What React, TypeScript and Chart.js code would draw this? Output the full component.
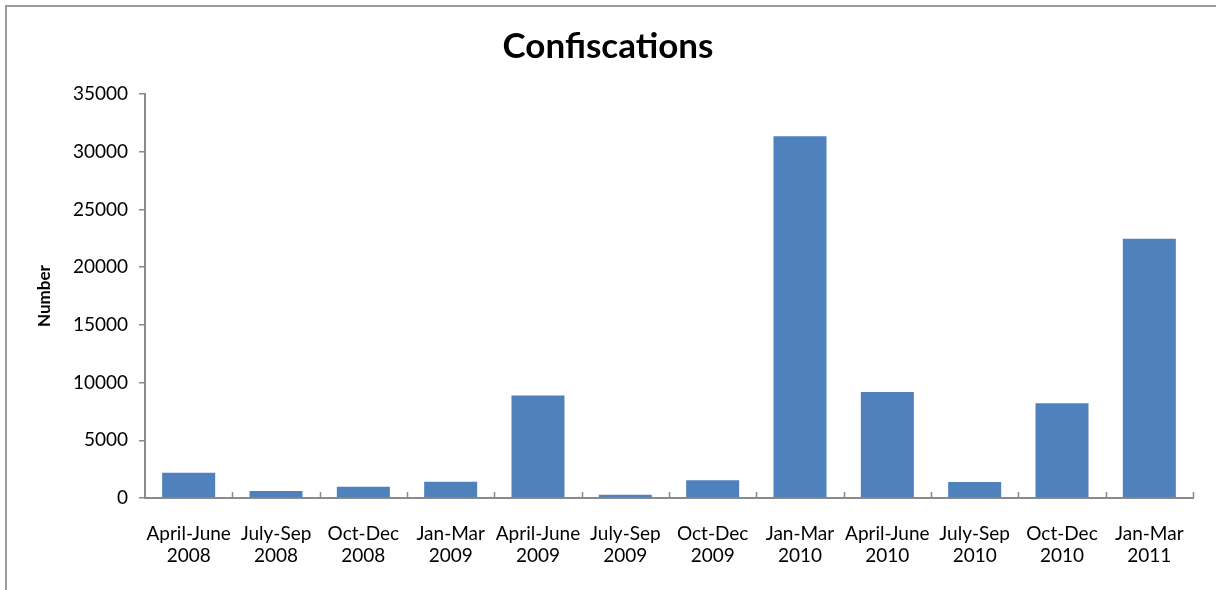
import React, { useEffect, useRef } from "react";
import { Chart, registerables } from "chart.js";

Chart.register(...registerables);

const categories: string[][] = [
  ["April-June", "2008"],
  ["July-Sep", "2008"],
  ["Oct-Dec", "2008"],
  ["Jan-Mar", "2009"],
  ["April-June", "2009"],
  ["July-Sep", "2009"],
  ["Oct-Dec", "2009"],
  ["Jan-Mar", "2010"],
  ["April-June", "2010"],
  ["July-Sep", "2010"],
  ["Oct-Dec", "2010"],
  ["Jan-Mar", "2011"],
];

const confiscations: number[] = [
  2190, 600, 980, 1410, 8890, 290, 1530, 31330, 9180, 1390, 8200, 22470,
];

const yMax = 35000;
const yStep = 5000;

const FONT = "Lato, 'DejaVu Sans', sans-serif";
const AXIS_GRAY = "#8a8a8a";

const framePlugin = {
  id: "frame",
  beforeDraw(chart: any) {
    const ctx = chart.ctx;
    ctx.save();
    ctx.fillStyle = "#ffffff";
    ctx.fillRect(0, 0, chart.width, chart.height);
    ctx.strokeStyle = "#9c9c9c";
    ctx.lineWidth = 2;
    ctx.beginPath();
    ctx.moveTo(6, chart.height);
    ctx.lineTo(6, 6);
    ctx.lineTo(chart.width, 6);
    ctx.stroke();
    ctx.restore();
  },
};

const innerTicksPlugin = {
  id: "innerTicks",
  afterDatasetsDraw(chart: any) {
    const x = chart.scales.x;
    const ctx = chart.ctx;
    const n = categories.length;
    const w = (x.right - x.left) / n;
    ctx.save();
    ctx.strokeStyle = AXIS_GRAY;
    ctx.lineWidth = 1.5;
    ctx.beginPath();
    for (let i = 1; i <= n; i++) {
      const px = Math.round(x.left + i * w) + 0.5;
      ctx.moveTo(px, x.top);
      ctx.lineTo(px, x.top - 6);
    }
    ctx.stroke();
    ctx.restore();
  },
};

export default function App() {
  const ref = useRef<HTMLCanvasElement | null>(null);

  useEffect(() => {
    document.body.style.margin = "0";
    if (!ref.current) return;
    const chart = new Chart(ref.current, {
      type: "bar",
      data: {
        labels: categories,
        datasets: [
          {
            label: "Confiscations",
            data: confiscations,
            backgroundColor: "#4F81BD",
            borderWidth: 0,
            barPercentage: 0.607,
            categoryPercentage: 1,
          },
        ],
      },
      options: {
        responsive: false,
        animation: false,
        layout: { padding: { left: 23, right: 23, top: 0, bottom: 0 } },
        plugins: {
          legend: { display: false },
          tooltip: { enabled: false },
          title: {
            display: true,
            text: "Confiscations",
            color: "#000000",
            font: { family: FONT, size: 35, weight: "bold", lineHeight: 1.2 },
            padding: { top: 26, bottom: 26 },
          },
        },
        scales: {
          x: {
            grid: { display: false, drawTicks: false },
            border: { display: true, color: AXIS_GRAY, width: 2 },
            ticks: {
              color: "#000000",
              font: { family: FONT, size: 19, lineHeight: 1.17 },
              padding: 25,
              maxRotation: 0,
              autoSkip: false,
            },
            afterFit(scale: any) {
              scale.height = 92;
            },
          },
          y: {
            min: 0,
            max: yMax,
            grid: {
              drawOnChartArea: false,
              drawTicks: true,
              tickLength: 6,
              color: AXIS_GRAY,
              lineWidth: 1.5,
            },
            border: { display: true, color: AXIS_GRAY, width: 2 },
            ticks: {
              stepSize: yStep,
              color: "#000000",
              font: { family: FONT, size: 19 },
              padding: 11,
              callback: (v: any) => String(v),
            },
            title: {
              display: true,
              text: "Number",
              color: "#000000",
              font: { family: FONT, size: 17, weight: "bold", lineHeight: 1.2 },
              padding: { top: 11, bottom: 0 },
            },
            afterFit(scale: any) {
              scale.width = 122;
            },
          },
        },
      },
      plugins: [framePlugin, innerTicksPlugin],
    });
    return () => chart.destroy();
  }, []);

  return (
    <div style={{ position: "absolute", left: 0, top: 0, width: 1216, height: 590 }}>
      <canvas ref={ref} width={1216} height={590} />
    </div>
  );
}
